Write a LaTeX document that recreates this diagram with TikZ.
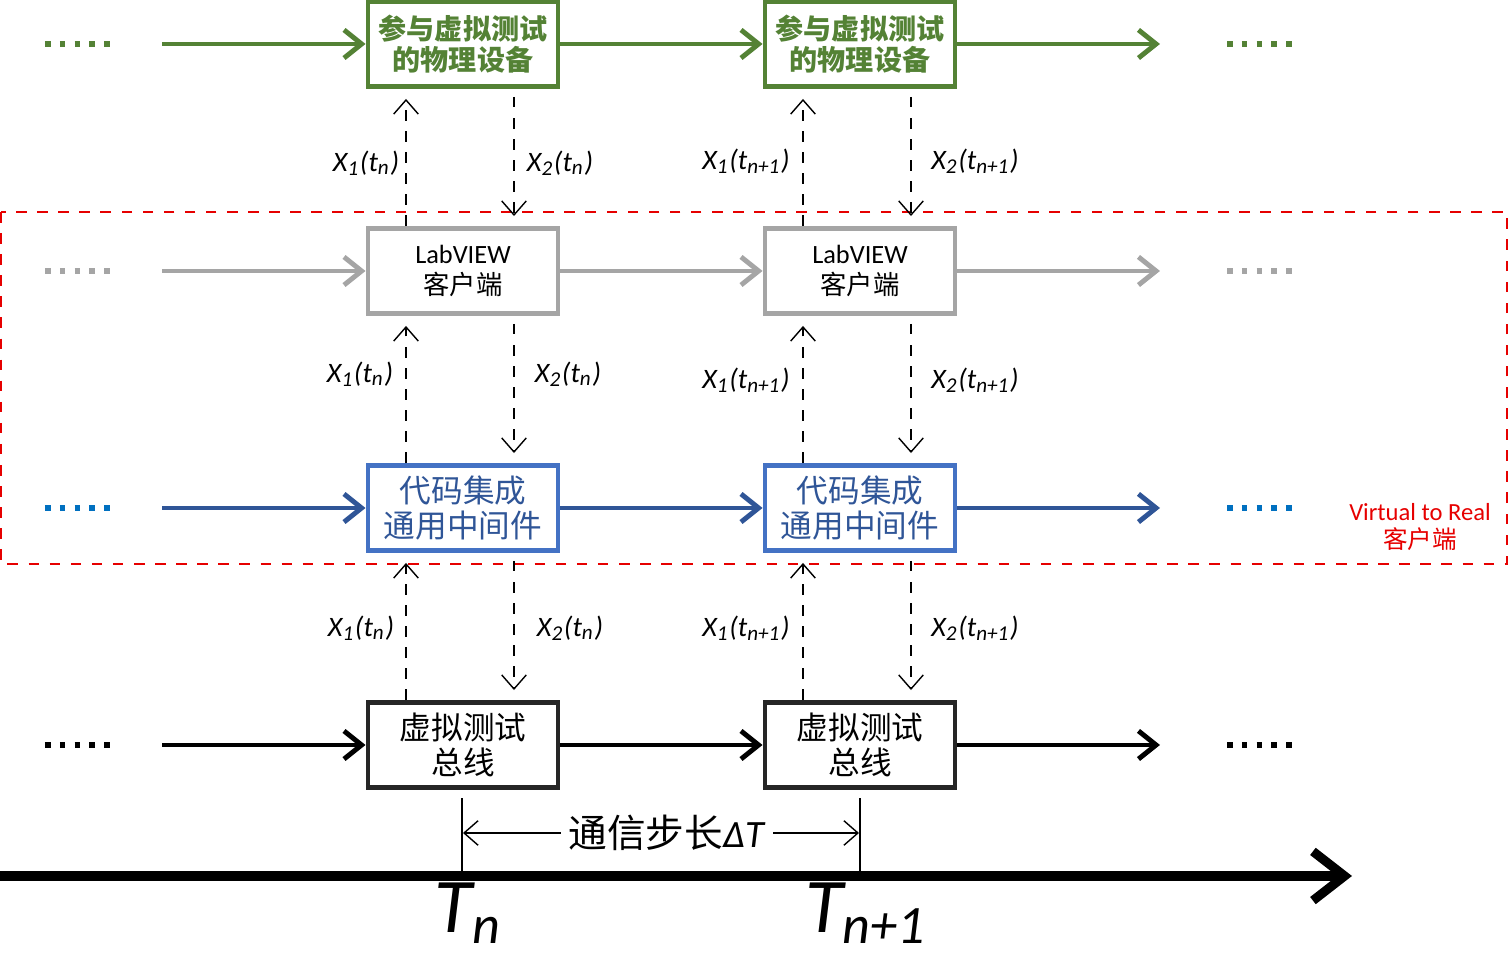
\documentclass[tikz,border=0pt]{standalone}
\usepackage{fontspec}
\setmainfont{Carlito}
\newfontfamily\cjk{Noto Sans CJK SC}
\usetikzlibrary{arrows.meta}
\definecolor{grn}{RGB}{84,130,53}
\definecolor{gry}{RGB}{165,165,165}
\definecolor{blu}{RGB}{47,85,151}
\definecolor{bbox}{RGB}{68,114,196}
\definecolor{bdot}{RGB}{0,112,192}
\definecolor{rd}{RGB}{230,0,0}
\newcommand{\xl}[2]{\textit{X\textsubscript{#1}(t\textsubscript{#2})}}
\tikzset{
  box/.style={draw,line width=1.4pt,minimum width=1.9cm,minimum height=0.85cm,align=center,inner sep=1pt},
  flow/.style={line width=1.4pt,-{Straight Barb[length=5pt,width=8pt]}},
  sig/.style={dashed,-{Straight Barb[length=4pt,width=7pt]}},
  lbl/.style={font=\fontsize{8}{9}\selectfont},
  dots/.style={line width=1.6pt,dash pattern=on 1.6pt off 2.6pt}
}
\begin{document}
\begin{tikzpicture}[x=1cm,y=-1cm]
\useasboundingbox (0,0) rectangle (15.09,9.54);
% virtual to real client
\draw[rd,dashed] (0.01,2.12) rectangle (15.07,5.64);
\node[rd,align=center,font=\fontsize{7}{8}\selectfont] (v2r) at (14.2,5.27) {Virtual to Real\\{\cjk 客户端}};
% rows
\foreach \c/\y/\n in {grn/0.44/gr, gry/2.71/lv, blu/5.08/mw, black/7.45/bs}{
  \coordinate (\n l) at (1.62,\y);
  \coordinate (\n r) at (11.6,\y);
  \coordinate (\n dl) at (0.45,\y);
  \coordinate (\n dr) at (12.27,\y);
}
\node[box,draw=grn,text=grn,font=\cjk\bfseries\fontsize{8}{9}\selectfont] (gr1) at (4.63,0.44) {参与虚拟测试\\的物理设备};
\node[box,draw=grn,text=grn,font=\cjk\bfseries\fontsize{8}{9}\selectfont] (gr2) at (8.60,0.44) {参与虚拟测试\\的物理设备};
\node[box,draw=gry,font=\fontsize{7.5}{9}\selectfont] (lv1) at (4.63,2.71) {LabVIEW\\{\cjk 客户端}};
\node[box,draw=gry,font=\fontsize{7.5}{9}\selectfont] (lv2) at (8.60,2.71) {LabVIEW\\{\cjk 客户端}};
\node[box,draw=bbox,text=blu,font=\cjk\fontsize{9}{10}\selectfont] (mw1) at (4.63,5.08) {代码集成\\通用中间件};
\node[box,draw=bbox,text=blu,font=\cjk\fontsize{9}{10}\selectfont] (mw2) at (8.60,5.08) {代码集成\\通用中间件};
\node[box,draw=black!85,font=\cjk\fontsize{9}{10}\selectfont] (bs1) at (4.63,7.45) {虚拟测试\\总线};
\node[box,draw=black!85,font=\cjk\fontsize{9}{10}\selectfont] (bs2) at (8.60,7.45) {虚拟测试\\总线};
\foreach \n/\c/\d in {gr/grn/grn, lv/gry/gry, mw/blu/bdot, bs/black/black}{
  \draw[flow,\c] (\n l) -- (\n1);
  \draw[flow,\c] (\n1) -- (\n2);
  \draw[flow,\c] (\n2) -- (\n r);
  \draw[dots,\d] (\n dl) -- ++(0.68,0);
  \draw[dots,\d] (\n dr) -- ++(0.68,0);
}
% signals
\foreach \i in {1,2}{
  \foreach \lo/\hi in {lv/gr, mw/lv, bs/mw}{
    \draw[sig] ([xshift=-0.57cm]\lo\i.north) -- ([xshift=-0.57cm,yshift=-0.1cm]\hi\i.south);
    \draw[sig] ([xshift=0.51cm,yshift=-0.08cm]\hi\i.south) -- ([xshift=0.51cm,yshift=0.1cm]\lo\i.north);
  }
}
\node[lbl] (a1) at (3.66,1.63) {\xl{1}{n}};
\node[lbl] (a2) at (5.60,1.63) {\xl{2}{n}};
\node[lbl] (a3) at (7.46,1.61) {\xl{1}{n+1}};
\node[lbl] (a4) at (9.75,1.61) {\xl{2}{n+1}};
\node[lbl] (b1) at (3.60,3.74) {\xl{1}{n}};
\node[lbl] (b2) at (5.68,3.74) {\xl{2}{n}};
\node[lbl] (b3) at (7.46,3.80) {\xl{1}{n+1}};
\node[lbl] (b4) at (9.75,3.80) {\xl{2}{n+1}};
\node[lbl] (c1) at (3.61,6.28) {\xl{1}{n}};
\node[lbl] (c2) at (5.70,6.28) {\xl{2}{n}};
\node[lbl] (c3) at (7.46,6.28) {\xl{1}{n+1}};
\node[lbl] (c4) at (9.75,6.28) {\xl{2}{n+1}};
% time axis
\coordinate (t0) at (0,8.76);
\coordinate (t1) at (13.52,8.76);
\draw[line width=2.6pt,-{Straight Barb[length=9pt,width=14pt]}] (t0) -- (t1);
\coordinate (tn) at (4.62,8.76);
\coordinate (tm) at (8.60,8.76);
\draw[thick] (tn) -- (4.62,7.98);
\draw[thick] (tm) -- (8.60,7.98);
\node[font=\fontsize{11}{12}\selectfont,fill=white,inner sep=2pt] (dt) at (6.67,8.33) {{\cjk 通信步长}\textit{ΔT}};
\draw[-{Straight Barb[length=4pt,width=7pt]}] (dt.west) -- (4.63,8.33);
\draw[-{Straight Barb[length=4pt,width=7pt]}] (dt.east) -- (8.59,8.33);
\node[font=\fontsize{22}{24}\selectfont] (Tn) at (4.68,9.13) {\textit{T\textsubscript{n}}};
\node[font=\fontsize{22}{24}\selectfont] (Tm) at (8.66,9.13) {\textit{T\textsubscript{n+1}}};
\end{tikzpicture}
\end{document}
